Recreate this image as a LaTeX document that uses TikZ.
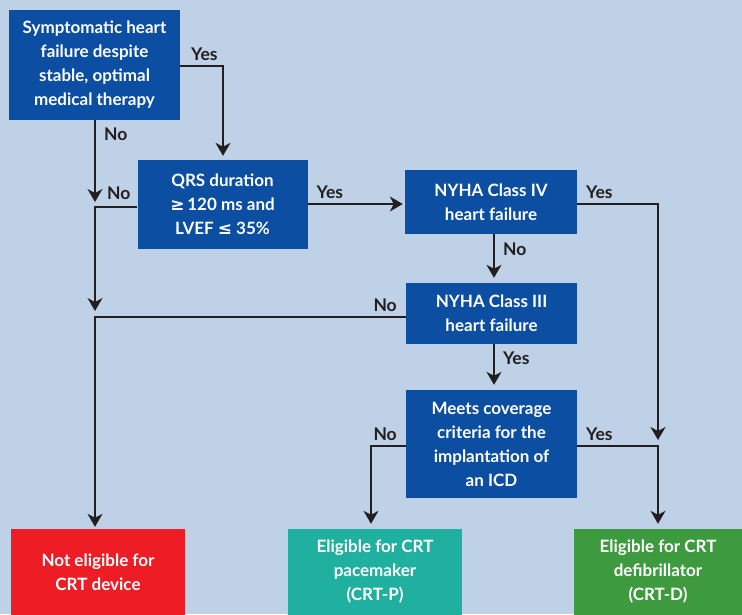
\documentclass[tikz,border=0pt]{standalone}
\usepackage{fontspec}
\setmainfont{Lato}
\newfontfamily\symfont{DejaVu Sans}
\usetikzlibrary{arrows.meta}
\definecolor{bgblue}{HTML}{BFD1E6}
\definecolor{boxblue}{HTML}{0B4EA2}
\definecolor{nored}{HTML}{EE1C25}
\definecolor{pmteal}{HTML}{20B0A0}
\definecolor{dgreen}{HTML}{3E9A3E}
\definecolor{ink}{HTML}{231F20}
\begin{document}
\begin{tikzpicture}[x=1pt,y=-1pt,
  box/.style={fill=boxblue,text=white,align=center,inner sep=0pt,
    font=\fontsize{17}{24}\selectfont\bfseries},
  link/.style={draw=ink,line width=1.4pt,-{Stealth[length=13pt,width=15pt,inset=4pt]}},
  lbl/.style={text=ink,font=\fontsize{17.5}{20}\selectfont\bfseries}]
  \fill[bgblue] (0,0) rectangle (742,614);
  \useasboundingbox (0,0) rectangle (742,614);
  \def\yes#1{node[lbl,#1]{Yes}}
  \def\no#1{node[lbl,#1]{No}}
  % decision boxes
  \node[box,minimum width=171pt,minimum height=110pt] (sym) at (94.5,65)
    {Symptomatic heart\\failure despite\\stable, optimal\\medical therapy};
  \node[box,minimum width=170pt,minimum height=89pt] (qrs) at (222.5,204.5)
    {QRS duration\\{\symfont\bfseries ≥}\,120 ms and\\LVEF {\symfont\bfseries ≤} 35\%};
  \node[box,minimum width=172pt,minimum height=64pt] (nyfour) at (491,202)
    {NYHA Class IV\\heart failure};
  \node[box,minimum width=171pt,minimum height=61pt] (nythree) at (491.5,313.5)
    {NYHA Class III\\heart failure};
  \node[box,minimum width=171pt,minimum height=108pt] (icd) at (491.5,444)
    {Meets coverage\\criteria for the\\implantation of\\an ICD};
  % outcomes
  \node[box,fill=nored,minimum width=174pt,minimum height=86pt] (none) at (98,572)
    {Not eligible for\\CRT device};
  \node[box,fill=pmteal,minimum width=174pt,minimum height=86pt] (crtp) at (375,572)
    {Eligible for CRT\\pacemaker\\(CRT-P)};
  \node[box,fill=dgreen,minimum width=168pt,minimum height=86pt] (crtd) at (658,572)
    {Eligible for CRT\\defibrillator\\(CRT-D)};
  \coordinate (noa) at (95,202);
  \coordinate (nob) at (95,311);
  \coordinate (yesd) at (658,440);
  % connectors
  \draw[link,shorten >=4pt] (sym.east |- 0,66) -| (qrs.north -| 223,0)
    \yes{pos=0,anchor=south west,xshift=7pt,yshift=1pt};
  \draw[link] (sym.south -| noa) -- (noa) \no{pos=0.17,right=5pt};
  \draw[link] (qrs.west |- 0,207) -| (nob)
    \no{pos=0.5,anchor=south west,xshift=8pt,yshift=3pt};
  \draw[link,shorten >=2pt] (qrs.east |- 0,204) -- (nyfour.west |- 0,204)
    \yes{pos=0,anchor=south west,xshift=5pt,yshift=1pt};
  \draw[link] (nyfour.east |- 0,204) -| (yesd)
    \yes{pos=0,anchor=south west,xshift=5pt,yshift=1pt};
  \draw[link,shorten >=5pt] (nyfour.south -| 494,0) -- (nythree.north -| 494,0) \no{pos=0.3,right=5pt};
  \draw[link,shorten >=2pt] (nythree.west |- 0,317) -| (none.north -| noa)
    \no{pos=0,anchor=south east,xshift=-5pt,yshift=1pt};
  \draw[link,shorten >=5pt] (nythree.south -| 494,0) -- (icd.north -| 494,0) \yes{pos=0.3,right=5pt};
  \draw[link,shorten >=5pt] (icd.west |- 0,446) -| (crtp.north -| 371,0)
    \no{pos=0,anchor=south east,xshift=-5pt,yshift=1pt};
  \draw[link,shorten >=5pt] (icd.east |- 0,446) -| (crtd.north)
    \yes{pos=0,anchor=south west,xshift=5pt,yshift=1pt};
\end{tikzpicture}
\end{document}
